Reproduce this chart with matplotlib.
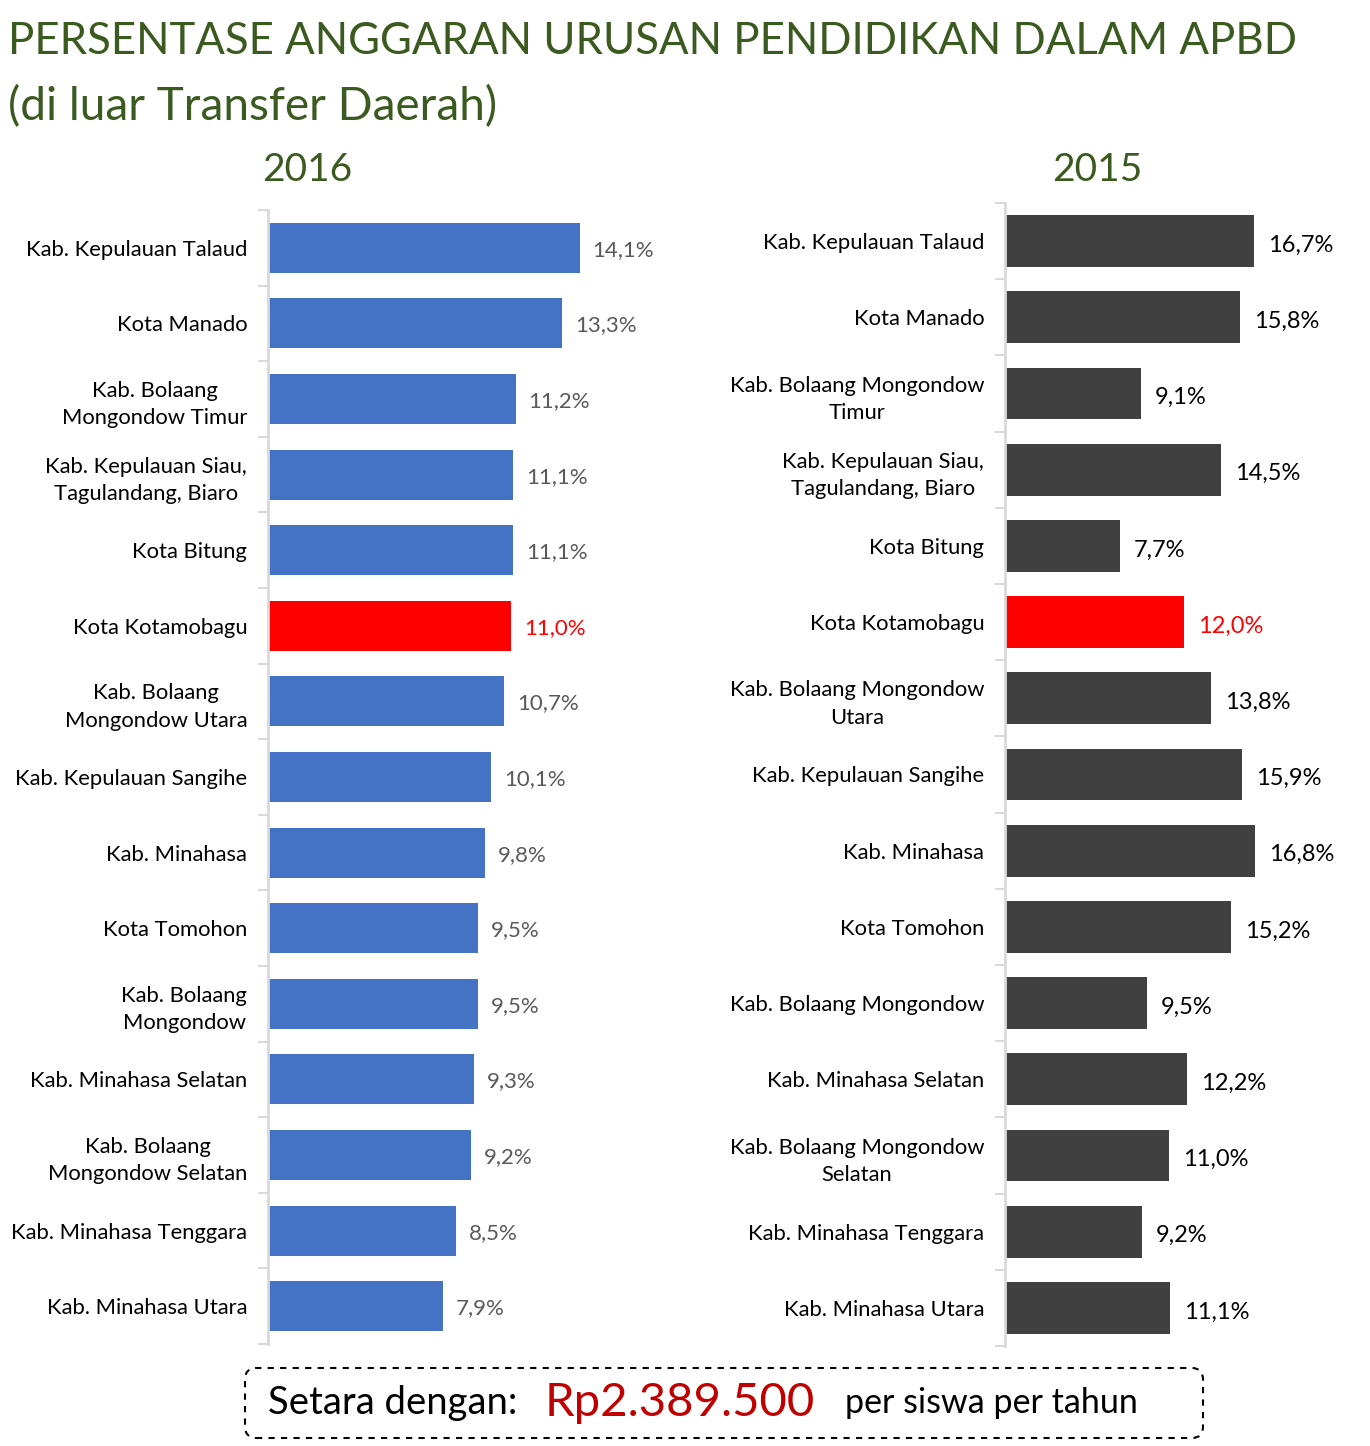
import matplotlib
matplotlib.use("Agg")
import matplotlib.pyplot as plt
from matplotlib.patches import FancyBboxPatch
from matplotlib.ticker import FixedLocator

plt.rcParams["font.family"] = ["Lato", "DejaVu Sans"]

TITLE_1 = "PERSENTASE ANGGARAN URUSAN PENDIDIKAN DALAM APBD"
TITLE_2 = "(di luar Transfer Daerah)"

LABELS_2016 = [
    "Kab. Kepulauan Talaud", "Kota Manado", "Kab. Bolaang\nMongondow Timur",
    "Kab. Kepulauan Siau,\nTagulandang, Biaro", "Kota Bitung", "Kota Kotamobagu",
    "Kab. Bolaang\nMongondow Utara", "Kab. Kepulauan Sangihe", "Kab. Minahasa",
    "Kota Tomohon", "Kab. Bolaang\nMongondow", "Kab. Minahasa Selatan",
    "Kab. Bolaang\nMongondow Selatan", "Kab. Minahasa Tenggara", "Kab. Minahasa Utara",
]
VALUES_2016 = [14.1, 13.3, 11.2, 11.1, 11.1, 11.0, 10.7, 10.1, 9.8, 9.5, 9.5, 9.3, 9.2, 8.5, 7.9]

LABELS_2015 = [
    "Kab. Kepulauan Talaud", "Kota Manado", "Kab. Bolaang Mongondow\nTimur",
    "Kab. Kepulauan Siau,\nTagulandang, Biaro", "Kota Bitung", "Kota Kotamobagu",
    "Kab. Bolaang Mongondow\nUtara", "Kab. Kepulauan Sangihe", "Kab. Minahasa",
    "Kota Tomohon", "Kab. Bolaang Mongondow", "Kab. Minahasa Selatan",
    "Kab. Bolaang Mongondow\nSelatan", "Kab. Minahasa Tenggara", "Kab. Minahasa Utara",
]
VALUES_2015 = [16.7, 15.8, 9.1, 14.5, 7.7, 12.0, 13.8, 15.9, 16.8, 15.2, 9.5, 12.2, 11.0, 9.2, 11.1]

HIGHLIGHT = "Kota Kotamobagu"

GREEN = "#3b5a1f"
BLUE = "#4472c4"
DARK = "#404040"
RED = "#ff0000"
AXIS_GREY = "#d9d9d9"

W, H = 1370, 1446
fig = plt.figure(figsize=(W / 100, H / 100), dpi=100)


def px_axes(x0, y0, x1, y1):
    # pixel box (top-left origin) -> figure axes
    return fig.add_axes([x0 / W, 1 - y1 / H, (x1 - x0) / W, (y1 - y0) / H])


def draw_panel(ax, labels, values, color, label_color, px_per_unit, width_px,
               bar_h, offset, val_size, dy):
    n = len(labels)
    pos = list(range(n))
    colors = [RED if l.replace("\n", " ").startswith(HIGHLIGHT) else color for l in labels]
    ax.barh(pos, values, height=bar_h, color=colors, zorder=2)
    ax.set_xlim(0, width_px / px_per_unit)
    ax.set_ylim(n - 0.5, -0.5)
    ax.set_yticks(pos)
    ax.set_yticklabels(labels, fontsize=15.8, color="black",
                       multialignment="center", linespacing=1.45)
    ax.yaxis.set_minor_locator(FixedLocator([i - 0.5 for i in range(n + 1)]))
    ax.tick_params(axis="y", which="major", length=0, pad=15)
    ax.tick_params(axis="y", which="minor", length=7, color=AXIS_GREY, width=1.5)
    ax.set_xticks([])
    for s in ("top", "right", "bottom"):
        ax.spines[s].set_visible(False)
    ax.spines["left"].set_color(AXIS_GREY)
    ax.spines["left"].set_linewidth(2)
    for p, v, c in zip(pos, values, colors):
        tc = RED if c == RED else label_color
        ax.annotate(f"{v:.1f}%".replace(".", ","), (v, p), xytext=(offset, dy),
                    textcoords="offset pixels", va="center", ha="left",
                    fontsize=val_size, color=tc)


ax1 = px_axes(268, 210, 660, 1344)
draw_panel(ax1, LABELS_2016, VALUES_2016, BLUE, "#595959", 22.1, 392, 0.66, 13, 16, -2)

ax2 = px_axes(1005, 203, 1345, 1346)
draw_panel(ax2, LABELS_2015, VALUES_2015, DARK, "black", 14.9, 340, 0.68, 14, 17, -4)

fig.text(8 / W, 1 - 42 / H, TITLE_1, fontsize=31.5, color=GREEN, va="center", ha="left")
fig.text(8 / W, 1 - 107 / H, TITLE_2, fontsize=33, color=GREEN, va="center", ha="left")
fig.text(307 / W, 1 - 170 / H, "2016", fontsize=28, color=GREEN, va="center", ha="center")
fig.text(1097 / W, 1 - 170 / H, "2015", fontsize=28, color=GREEN, va="center", ha="center")

box = FancyBboxPatch((245 / W, 1 - 1438 / H), (1203 - 245) / W, 70 / H,
                     boxstyle="round,pad=0,rounding_size=0.008",
                     transform=fig.transFigure, fill=False, edgecolor="black",
                     linestyle=(0, (3, 3)), linewidth=1.5)
fig.patches.append(box)
fig.text(268 / W, 1 - 1403 / H, "Setara dengan:", fontsize=27.5, color="black", va="center", ha="left")
fig.text(545 / W, 1 - 1403 / H, "Rp2.389.500", fontsize=34, color="#c00000", va="center", ha="left")
fig.text(845 / W, 1 - 1403 / H, "per siswa per tahun", fontsize=24.5, color="black", va="center", ha="left")

fig.savefig("out.png", dpi=100, facecolor="white")
